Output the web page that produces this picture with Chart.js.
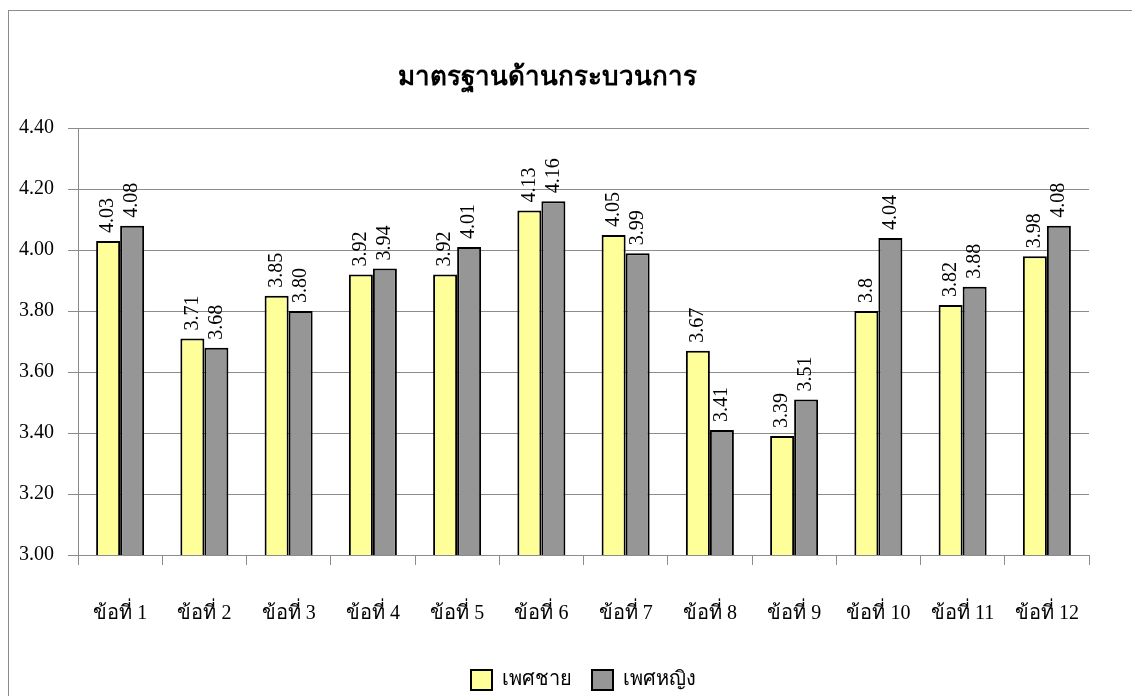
<!DOCTYPE html>
<html>
<head>
<meta charset="utf-8">
<script src="https://cdn.jsdelivr.net/npm/chart.js@4.4.0/dist/chart.umd.min.js"></script>
<style>
    html, body { margin: 0; padding: 0; background: #fff; overflow: hidden; }
    #wrap { position: relative; width: 1132px; height: 696px; overflow: hidden; }
    #frame { position: absolute; left: 8px; top: 10px; width: 1200px; height: 760px; border: 1px solid #8c8c8c; }
    canvas { position: absolute; left: 0; top: 0; }
</style>
</head>
<body>
<div id="wrap">
    <div id="frame"></div>
    <canvas id="chart" width="1132" height="696"></canvas>
</div>
<script>
// ข้อมูลกราฟ
const categories = ['ข้อที่ 1', 'ข้อที่ 2', 'ข้อที่ 3', 'ข้อที่ 4', 'ข้อที่ 5', 'ข้อที่ 6',
    'ข้อที่ 7', 'ข้อที่ 8', 'ข้อที่ 9', 'ข้อที่ 10', 'ข้อที่ 11', 'ข้อที่ 12'];
const maleValues = [4.03, 3.71, 3.85, 3.92, 3.92, 4.13, 4.05, 3.67, 3.39, 3.8, 3.82, 3.98];
const femaleValues = [4.08, 3.68, 3.80, 3.94, 4.01, 4.16, 3.99, 3.41, 3.51, 4.04, 3.88, 4.08];
// ป้ายค่าตามที่แสดงในภาพ
const maleLabels = ['4.03', '3.71', '3.85', '3.92', '3.92', '4.13', '4.05', '3.67', '3.39', '3.8', '3.82', '3.98'];
const femaleLabels = ['4.08', '3.68', '3.80', '3.94', '4.01', '4.16', '3.99', '3.41', '3.51', '4.04', '3.88', '4.08'];
const yTicks = [3.00, 3.20, 3.40, 3.60, 3.80, 4.00, 4.20, 4.40];

const FONT = "'Liberation Serif', 'Times New Roman', serif";

// ป้ายค่าแนวตั้งเหนือแท่ง
const barValueLabels = {
    id: 'barValueLabels',
    afterDatasetsDraw(chart) {
        const ctx = chart.ctx;
        const texts = [maleLabels, femaleLabels];
        ctx.save();
        ctx.font = '20px ' + FONT;
        ctx.fillStyle = '#000';
        ctx.textAlign = 'left';
        ctx.textBaseline = 'middle';
        chart.data.datasets.forEach((ds, di) => {
            const meta = chart.getDatasetMeta(di);
            meta.data.forEach((bar, i) => {
                ctx.save();
                ctx.translate(bar.x, bar.y - 8);
                ctx.rotate(-Math.PI / 2);
                ctx.fillText(texts[di][i], 0, 0);
                ctx.restore();
            });
        });
        ctx.restore();
    }
};

new Chart(document.getElementById('chart'), {
    type: 'bar',
    data: {
        labels: categories,
        datasets: [
            {
                label: 'เพศชาย',
                data: maleValues,
                backgroundColor: '#FFFF99',
                borderColor: '#000',
                borderWidth: 2,
                borderSkipped: false
            },
            {
                label: 'เพศหญิง',
                data: femaleValues,
                backgroundColor: '#969696',
                borderColor: '#000',
                borderWidth: 2,
                borderSkipped: false
            }
        ]
    },
    options: {
        responsive: false,
        animation: false,
        devicePixelRatio: 1,
        layout: { padding: { left: 5, right: 43, top: 0, bottom: -4 } },
        datasets: {
            bar: { categoryPercentage: 0.57, barPercentage: 1.0 }
        },
        plugins: {
            title: {
                display: true,
                text: 'มาตรฐานด้านกระบวนการ',
                color: '#000',
                font: { family: FONT, size: 26, weight: 'bold' },
                padding: { top: 63, bottom: 34 }
            },
            legend: {
                display: true,
                position: 'bottom',
                fullSize: false,
                labels: {
                    color: '#000',
                    font: { family: FONT, size: 20 },
                    boxWidth: 21,
                    boxHeight: 20,
                    padding: 20
                }
            },
            tooltip: { enabled: false }
        },
        scales: {
            x: {
                grid: {
                    display: true,
                    drawOnChartArea: false,
                    drawTicks: true,
                    tickLength: 10,
                    color: '#8c8c8c',
                    offset: true
                },
                border: { display: true, color: '#8c8c8c', width: 1 },
                ticks: {
                    color: '#000',
                    font: { family: FONT, size: 20 },
                    padding: 37,
                    maxRotation: 0,
                    autoSkip: false
                },
                afterFit(axis) {
                    // ความสูงแกน x ให้เส้นแกนอยู่ตำแหน่งเดียวกับภาพต้นแบบ
                    axis.height = 95;
                }
            },
            y: {
                min: 3.0,
                max: 4.4,
                afterBuildTicks(axis) {
                    axis.ticks = yTicks.map(v => ({ value: v }));
                },
                grid: {
                    color: '#8c8c8c',
                    tickLength: 10
                },
                border: { display: true, color: '#8c8c8c', width: 1 },
                ticks: {
                    color: '#000',
                    font: { family: FONT, size: 20 },
                    padding: 14,
                    callback: v => Number(v).toFixed(2)
                }
            }
        }
    },
    plugins: [barValueLabels]
});
</script>
</body>
</html>
